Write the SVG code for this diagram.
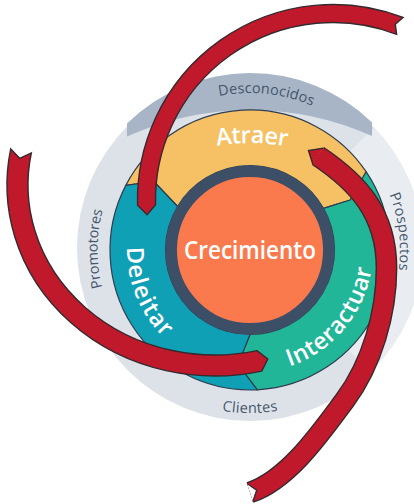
<svg xmlns="http://www.w3.org/2000/svg" width="414" height="504" viewBox="0 0 414 504">
<style>
.seg{stroke:#2e3d4f;stroke-width:1.2;stroke-linejoin:round}
.arrow{fill:#c1192c;stroke:#352a2d;stroke-width:1.4;stroke-linejoin:miter}
.lbl{font-family:"Open Sans","DejaVu Sans",sans-serif;font-size:14.5px;fill:#45566b}
.stage{font-family:"Open Sans","DejaVu Sans",sans-serif;font-weight:600;font-size:23.5px;fill:#ffffff}
</style>
<defs>
<path id="pDesc" d="M162.2,119.8 A157,157 0 0 1 362.9,140.9"/>
<path id="pProsp" d="M352.3,140.3 A150,150 0 0 1 375.8,331.7"/>
<path id="pProm" d="M132.5,347.2 A152.5,152.5 0 0 1 133.9,151.2"/>
<path id="pCli" d="M145.2,374.9 A163,163 0 0 0 354.8,374.9"/>
<path id="pAtr" d="M159.2,166.8 A185,185 0 0 1 344.2,168.8"/>
<path id="pInt" d="M250,373 A123,123 0 0 0 371.1,228.6"/>
<path id="pDel" d="M141.4,192.3 A123,123 0 0 0 212,367"/>
<path id="arrow3" d="M318,156 C357,182 386.5,213 386.5,268 C386.5,313 371.8,363.9 345,400 C321.2,432.1 288,480.1 250,492.5"/>
</defs>
<rect width="414" height="504" fill="#ffffff"/>
<g id="outer-ring">
<circle cx="250" cy="248" r="173" fill="#dde2e9"/>
<path d="M374.4,127.8 A173,173 0 0 1 370.2,372.4 L345.9,347.3 A138,138 0 0 0 349.3,152.1 Z" fill="#e9edf2"/>
<path d="M127,123.5 A175,175 0 0 1 372,122.5 L372,136.1 A298,298 0 0 0 127,136.6 Z" fill="#a8b5c7"/>
</g>
<g id="desconocidos"><text class="lbl"><textPath href="#pDesc" startOffset="50%" text-anchor="middle" textLength="95">Desconocidos</textPath></text></g>
<g id="prospectos"><text class="lbl"><textPath href="#pProsp" startOffset="50%" text-anchor="middle" textLength="77">Prospectos</textPath></text></g>
<g id="promotores"><text class="lbl"><textPath href="#pProm" startOffset="50%" text-anchor="middle" textLength="78">Promotores</textPath></text></g>
<g id="clientes"><text class="lbl"><textPath href="#pCli" startOffset="50%" text-anchor="middle" textLength="56">Clientes</textPath></text></g>
<g id="atraer">
<path class="seg" fill="#f5c164" d="M125.8,185.4 A140,140 0 0 1 366.1,171.7 L350.2,200 L323.5,208.4 A84.5,84.5 0 0 0 177.6,206.5 L153.9,181.5 Z"/>
<text class="stage"><textPath href="#pAtr" startOffset="50%" text-anchor="middle" textLength="70">Atraer</textPath></text>
</g>
<g id="interactuar">
<path class="seg" fill="#20b697" d="M366.1,171.7 A140,140 0 0 1 257.3,389.8 L238,364.4 L250,334.5 A84.5,84.5 0 0 0 323.5,208.4 L350.2,200 Z"/>
<text class="stage"><textPath href="#pInt" startOffset="50%" text-anchor="middle" textLength="134">Interactuar</textPath></text>
</g>
<g id="deleitar">
<path class="seg" fill="#0fa0b6" d="M257.3,389.8 A140,140 0 0 1 125.8,185.4 L153.9,181.5 L177.6,206.5 A84.5,84.5 0 0 0 250,334.5 L238,364.4 Z"/>
<text class="stage"><textPath href="#pDel" startOffset="50%" text-anchor="middle" textLength="100">Deleitar</textPath></text>
</g>
<g id="crecimiento">
<circle cx="250" cy="250" r="78.8" fill="#fa7a4e" stroke="#3c4f67" stroke-width="11.5"/>
<text x="250" y="259" text-anchor="middle" font-family="Open Sans, DejaVu Sans, sans-serif" font-weight="600" font-size="25" fill="#ffffff" textLength="132" lengthAdjust="spacingAndGlyphs">Crecimiento</text>
</g>
<g id="connectors">
<path class="arrow" d="M403.06,17.48 A195.5,195.5 0 0 0 137.57,205.12 L147.07,214.63 L155.56,204.65 A177.5,177.5 0 0 1 396.61,34.29 L395.26,24.2 Z"/>
<path class="arrow" d="M10.73,148.98 A208,191 0 0 0 261.79,371.1 L267.78,358.94 L257.07,350.64 A187,170 0 0 1 31.36,152.94 L19.67,158.32 Z"/>
<g>
<use href="#arrow3" fill="none" stroke="#352a2d" stroke-width="21.8"/>
<use href="#arrow3" fill="none" stroke="#c1192c" stroke-width="19"/>
<path d="M323.25,148.08 L308.5,150.5 L312.75,163.92" fill="#c1192c" stroke="#352a2d" stroke-width="1.4"/>
<path d="M247.05,483.5 L256.7,490.3 L252.9,501.5" fill="#ffffff" stroke="#352a2d" stroke-width="1.4"/>
</g>
</g>
</svg>
